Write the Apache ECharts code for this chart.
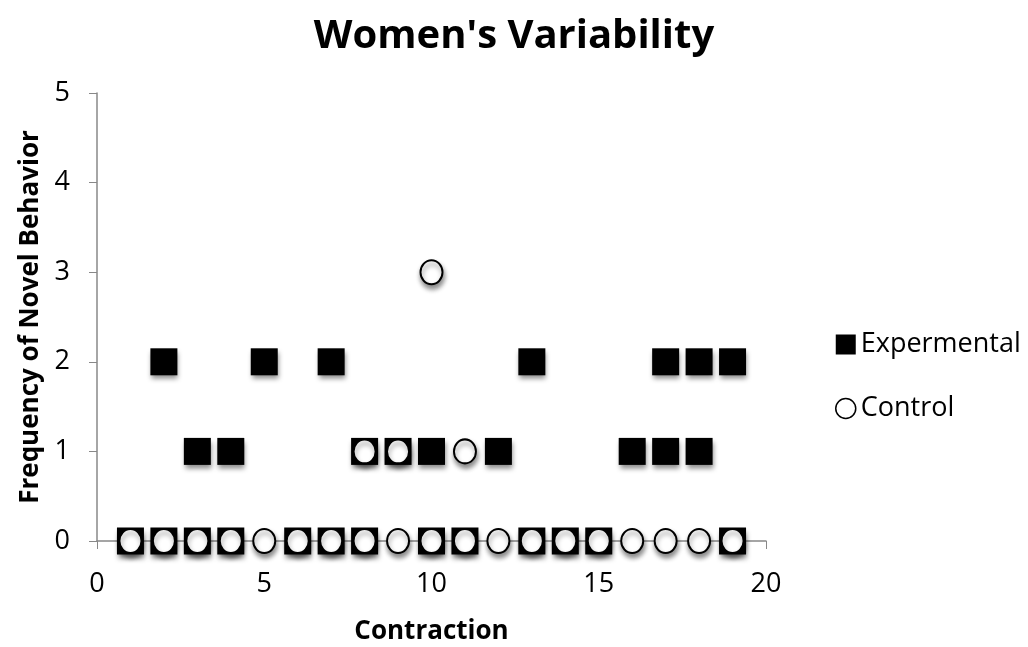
<!DOCTYPE html>
<html>
<head>
    <meta charset="UTF-8">
    <title>Women's Variability</title>
    <style>
        html, body {
            height: 100%;
            width: 100%;
            margin: 0;
            padding: 0;
            background: #fff;
        }
    </style>
    <script src="https://cdn.jsdelivr.net/npm/echarts@6/dist/echarts.min.js"></script>
</head>
<body>
<div id="main" style="width: 1028px; height: 647px;"></div>
<script type="text/javascript">
    // legend names
    var seriesNames = ['Expermental', 'Control'];
    // experimental points [contraction, frequency]
    var expX = [1, 2, 2, 3, 3, 4, 4, 5, 6, 7, 7, 8, 8, 9, 10, 10, 11, 12, 13, 13, 14, 15, 16, 17, 17, 18, 18, 19, 19];
    var expY = [0, 0, 2, 0, 1, 0, 1, 2, 0, 0, 2, 0, 1, 1, 0, 1, 0, 1, 0, 2, 0, 0, 1, 1, 2, 1, 2, 0, 2];
    // control points
    var ctrlX = [1, 2, 3, 4, 5, 6, 7, 8, 8, 9, 9, 10, 10, 11, 11, 12, 13, 14, 15, 16, 17, 18, 19];
    var ctrlY = [0, 0, 0, 0, 0, 0, 0, 0, 1, 0, 1, 0, 3, 0, 1, 0, 0, 0, 0, 0, 0, 0, 0];

    function pairs(xs, ys) {
        var out = [];
        for (var i = 0; i < xs.length; i++) {
            out.push([xs[i], ys[i]]);
        }
        return out;
    }

    var font = 'Open Sans';
    var shadow = {
        opacity: 1,
        shadowBlur: 5,
        shadowOffsetX: 1,
        shadowOffsetY: 4,
        shadowColor: 'rgba(0,0,0,0.45)'
    };

    var myChart = echarts.init(document.getElementById('main'));
    var option = {
        backgroundColor: '#fff',
        animation: false,
        title: {
            text: "Women's Variability",
            left: 'center',
            top: 12,
            textStyle: {
                fontFamily: font,
                fontSize: 40,
                fontWeight: 'bold',
                color: '#000'
            }
        },
        legend: {
            orient: 'vertical',
            left: 830,
            top: 326,
            itemGap: 37,
            itemWidth: 20,
            itemHeight: 20,
            data: [
                {name: seriesNames[0], icon: 'rect'},
                {name: seriesNames[1], icon: 'circle', itemStyle: {color: '#fff', borderColor: '#000', borderWidth: 1.5}}
            ],
            textStyle: {
                fontFamily: font,
                fontSize: 27,
                color: '#000'
            }
        },
        grid: {
            left: 97,
            right: 262,
            top: 93,
            bottom: 106,
            outerBoundsMode: 'none'
        },
        xAxis: {
            type: 'value',
            min: 0,
            max: 20,
            interval: 5,
            name: 'Contraction',
            nameLocation: 'middle',
            nameGap: 78,
            nameTextStyle: {
                fontFamily: font,
                fontSize: 26,
                fontWeight: 'bold',
                color: '#000'
            },
            axisLine: {onZero: false, lineStyle: {color: '#888', width: 1.5}},
            axisTick: {show: true, length: 8, lineStyle: {color: '#888'}},
            axisLabel: {fontFamily: font, fontSize: 27, color: '#000', margin: 30},
            splitLine: {show: false}
        },
        yAxis: {
            type: 'value',
            min: 0,
            max: 5,
            interval: 1,
            name: 'Frequency of Novel Behavior',
            nameLocation: 'middle',
            nameGap: 53,
            nameTextStyle: {
                fontFamily: font,
                fontSize: 26,
                fontWeight: 'bold',
                color: '#000'
            },
            axisLine: {show: true, lineStyle: {color: '#888', width: 1.5}},
            axisTick: {show: true, length: 8, lineStyle: {color: '#888'}},
            axisLabel: {fontFamily: font, fontSize: 27, color: '#000', margin: 27},
            splitLine: {show: false}
        },
        series: [{
            name: seriesNames[0],
            type: 'scatter',
            symbol: 'rect',
            symbolSize: [27, 27],
            data: pairs(expX, expY),
            itemStyle: Object.assign({color: '#000'}, shadow)
        }, {
            name: seriesNames[1],
            type: 'scatter',
            symbol: 'circle',
            symbolSize: [22, 24],
            data: pairs(ctrlX, ctrlY),
            itemStyle: Object.assign({color: '#fff', borderColor: '#000', borderWidth: 2}, shadow)
        }]
    };
    myChart.setOption(option);
</script>
</body>
</html>
